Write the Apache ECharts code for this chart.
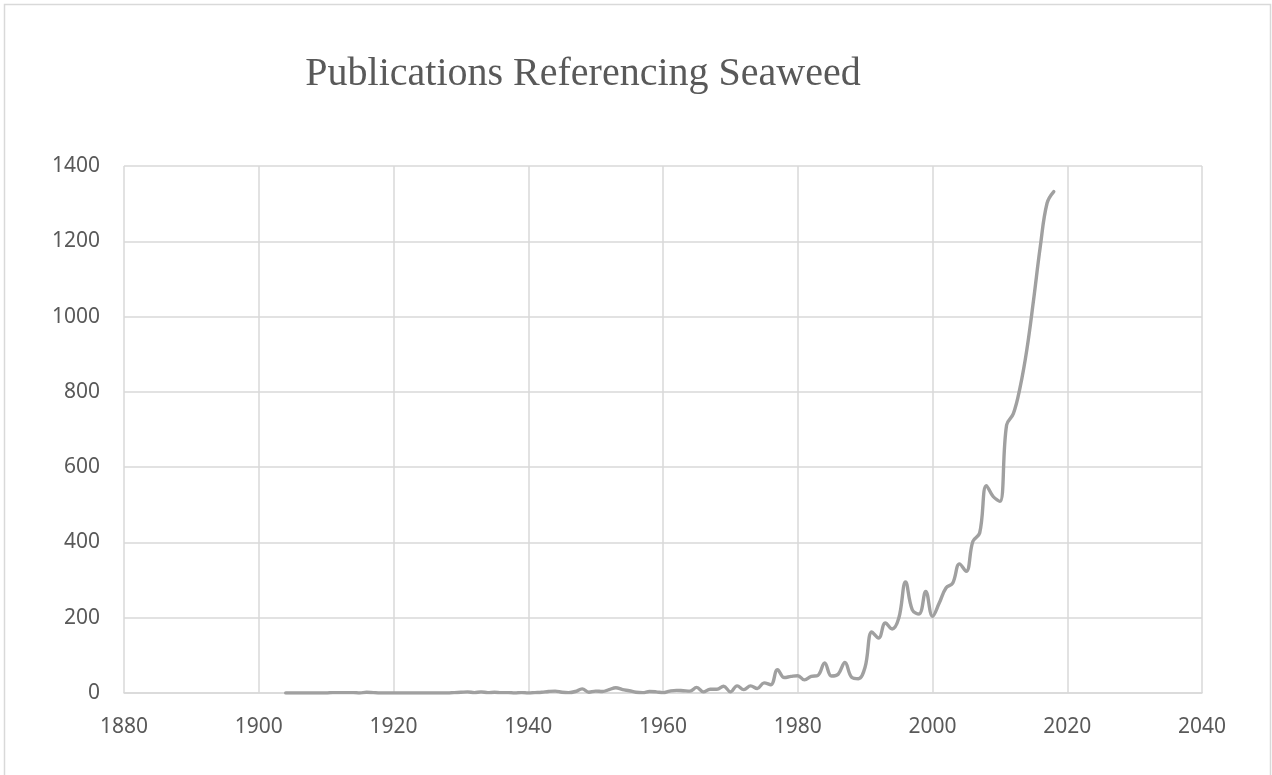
<!DOCTYPE html>
<html>
<head>
<meta charset="utf-8">
<title>Publications Referencing Seaweed</title>
<script src="https://cdn.jsdelivr.net/npm/echarts@6/dist/echarts.min.js"></script>
<style>
  html, body { margin: 0; padding: 0; background: #fff; }
  #chart { width: 1272px; height: 775px; }
</style>
</head>
<body>
<div id="chart"></div>
<script>
// Publications per year mentioning seaweed, 1904-2018
const firstYear = 1904;
const counts = [
  0, 0, 0, 0, 0, 0, 0, 1, 1, 1,          // 1904-1913
  1, 0, 2, 1, 0, 0, 0, 0, 0, 0,          // 1914-1923
  0, 0, 0, 0, 0, 1, 2, 3, 1, 3,          // 1924-1933
  1, 2, 1, 1, 0, 1, 0, 1, 2, 4,          // 1934-1943
  5, 2, 1, 4, 11, 2, 5, 4, 9, 14,        // 1944-1953
  9, 6, 2, 1, 4, 3, 1, 5, 7, 6,          // 1954-1963
  5, 15, 3, 10, 10, 18, 3, 19, 9, 19,    // 1964-1973
  12, 27, 22, 62, 41, 44, 46, 35, 44, 47, // 1974-1983
  80, 45, 50, 81, 42, 38, 69, 162, 146, 186, // 1984-1993
  170, 199, 295, 221, 210, 270, 204, 239, 279, 292, // 1994-2003
  343, 323, 403, 425, 551, 522, 509, 712, 742, 812, // 2004-2013
  912, 1044, 1186, 1301, 1332            // 2014-2018
];
const years = counts.map((_, i) => firstYear + i);

const xAxisMin = 1880, xAxisMax = 2040, xAxisStep = 20;
const yAxisMin = 0, yAxisMax = 1400, yAxisStep = 200;

const labelFont = '"Noto Sans", "Open Sans", sans-serif';
const gridColor = '#d9d9d9';
const plainNumber = v => String(v);

const chart = echarts.init(document.getElementById('chart'), null, { renderer: 'canvas' });
chart.setOption({
  animation: false,
  backgroundColor: '#ffffff',
  title: {
    text: 'Publications Referencing Seaweed',
    left: 578,
    top: 49,
    textAlign: 'center',
    textStyle: {
      fontFamily: '"Liberation Serif", "DejaVu Serif", serif',
      fontSize: 40,
      fontWeight: 'normal',
      color: '#595959'
    }
  },
  graphic: [{
    type: 'rect',
    silent: true,
    shape: { x: 4.5, y: 4.5, width: 1266, height: 800 },
    style: { fill: 'none', stroke: gridColor, lineWidth: 1.5 }
  }],
  grid: { left: 124, right: 70, top: 166, bottom: 82, containLabel: false },
  xAxis: {
    type: 'value',
    min: xAxisMin, max: xAxisMax, interval: xAxisStep,
    axisLine: { show: true, lineStyle: { color: gridColor, width: 1.5 } },
    axisTick: { show: false },
    splitLine: { show: true, lineStyle: { color: gridColor, width: 1.5 } },
    axisLabel: { margin: 24, fontFamily: labelFont, fontSize: 21, color: '#595959', formatter: plainNumber }
  },
  yAxis: {
    type: 'value',
    min: yAxisMin, max: yAxisMax, interval: yAxisStep,
    axisLine: { show: false },
    axisTick: { show: false },
    splitLine: { show: true, lineStyle: { color: gridColor, width: 1.5 } },
    axisLabel: { margin: 24, fontFamily: labelFont, fontSize: 21, color: '#595959', formatter: plainNumber }
  },
  series: [{
    type: 'line',
    name: 'Publications',
    data: years.map((y, i) => [y, counts[i]]),
    smooth: 0.4,
    showSymbol: false,
    lineStyle: { color: '#a0a0a0', width: 3.4, cap: 'round', join: 'round' }
  }]
});
</script>
</body>
</html>
